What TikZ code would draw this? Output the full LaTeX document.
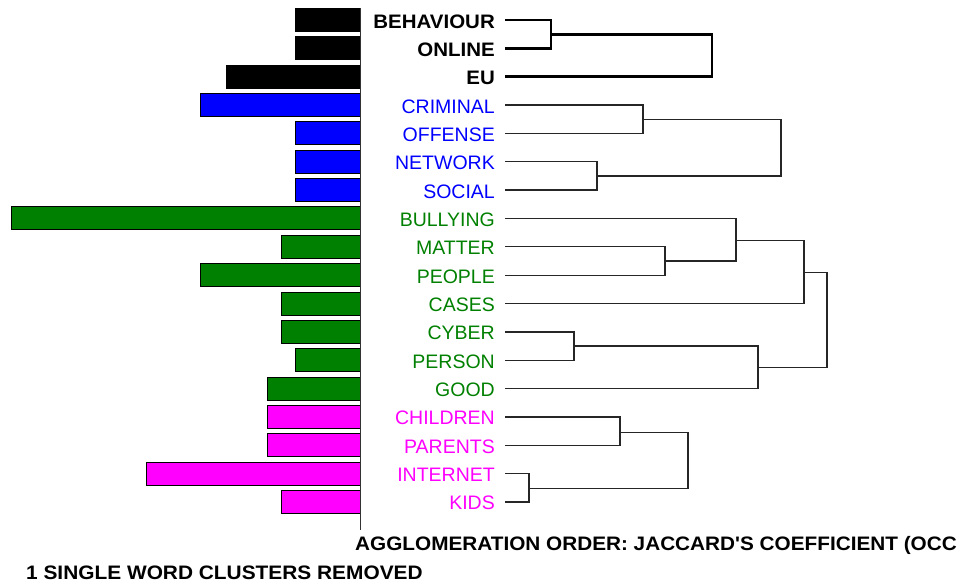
\documentclass[tikz,border=0pt]{standalone}
\usepackage{fontspec}
\setmainfont{Liberation Sans}
\usepackage{graphicx}
\usetikzlibrary{calc}
\definecolor{cblue}{RGB}{0,0,255}
\definecolor{cgreen}{RGB}{0,128,0}
\definecolor{cmag}{RGB}{255,0,255}
\begin{document}
\begin{tikzpicture}[x=1pt,y=-1pt,
  lbl/.style={anchor=base east, inner sep=0pt, font=\fontsize{19.5}{20}\selectfont},
  foot/.style={anchor=base west, inner sep=0pt, font=\fontsize{19.5}{20}\selectfont\bfseries},
  barbox/.style={draw=black, line width=1pt},
  thinline/.style={line width=1.3pt, black!85, line join=miter},
  thickline/.style={line width=2.7pt, black, line join=miter}]
\useasboundingbox (0,0) rectangle (961,584);
% axis
\coordinate (axtop) at (360,8);
\coordinate (axbot) at (360,530);
% bars and labels
\foreach \i/\t/\xl/\c in {1/BEHAVIOUR/295/black,2/ONLINE/295/black,3/EU/226/black}{
  \pgfmathsetmacro\yy{20+28.35*(\i-1)}
  \draw[barbox, fill=\c] (\xl,\yy-11.5) rectangle (360,\yy+11.5);
  \node[lbl, text=\c, font=\fontsize{19.5}{20}\selectfont\bfseries] (l\i) at (495,\yy+8) {\scalebox{1.05}[1]{\t}};
  \coordinate (s\i) at ($(l\i.base east)+(10,-8)$);
}
\foreach \i/\t/\xl/\c in {4/CRIMINAL/200/cblue,5/OFFENSE/295/cblue,6/NETWORK/295/cblue,7/SOCIAL/295/cblue,
  8/BULLYING/11/cgreen,9/MATTER/281/cgreen,10/PEOPLE/200/cgreen,11/CASES/281/cgreen,12/CYBER/281/cgreen,
  13/PERSON/295/cgreen,14/GOOD/267/cgreen,15/CHILDREN/267/cmag,16/PARENTS/267/cmag,17/INTERNET/146/cmag,18/KIDS/281/cmag}{
  \pgfmathsetmacro\yy{20+28.35*(\i-1)}
  \draw[barbox, fill=\c] (\xl,\yy-11.5) rectangle (360,\yy+11.5);
  \node[lbl, text=\c] (l\i) at (495,\yy+8) {\t};
  \coordinate (s\i) at ($(l\i.base east)+(10,-8)$);
}
\draw[line width=1pt, black!80] (axtop) -- (axbot);
% dendrogram joins
\coordinate (j1) at (551,34.2);
\coordinate (j2) at (712,55.4);
\coordinate (j3) at (643,119.2);
\coordinate (j4) at (597,175.9);
\coordinate (j5) at (781,147.6);
\coordinate (j6) at (665,261.0);
\coordinate (j7) at (736,240.5);
\coordinate (j8) at (804,272.5);
\coordinate (j9) at (574,346.0);
\coordinate (j10) at (758,367.8);
\coordinate (j11) at (827,320.2);
\coordinate (j12) at (620,432.5);
\coordinate (j13) at (529,488.8);
\coordinate (j14) at (688,460.6);
\draw[thickline] (s1) -| (j1) |- (s2);
\draw[thickline] (j1) -| (j2) |- (s3);
\draw[thinline] (s4) -| (j3) |- (s5);
\draw[thinline] (s6) -| (j4) |- (s7);
\draw[thinline] (j3) -| (j5) |- (j4);
\draw[thinline] (s9) -| (j6) |- (s10);
\draw[thinline] (s8) -| (j7) |- (j6);
\draw[thinline] (j7) -| (j8) |- (s11);
\draw[thinline] (s12) -| (j9) |- (s13);
\draw[thinline] (j9) -| (j10) |- (s14);
\draw[thinline] (j8) -| (j11) |- (j10);
\draw[thinline] (s15) -| (j12) |- (s16);
\draw[thinline] (s17) -| (j13) |- (s18);
\draw[thinline] (j12) -| (j14) |- (j13);
% footer
\node[foot] (foot1) at (355,550) {\scalebox{1.064}[1]{AGGLOMERATION ORDER: JACCARD\textquotesingle S COEFFICIENT (OCC}};
\node[foot] (foot2) at (26,579) {\scalebox{1.07}[1]{1 SINGLE WORD CLUSTERS REMOVED}};
\end{tikzpicture}
\end{document}
